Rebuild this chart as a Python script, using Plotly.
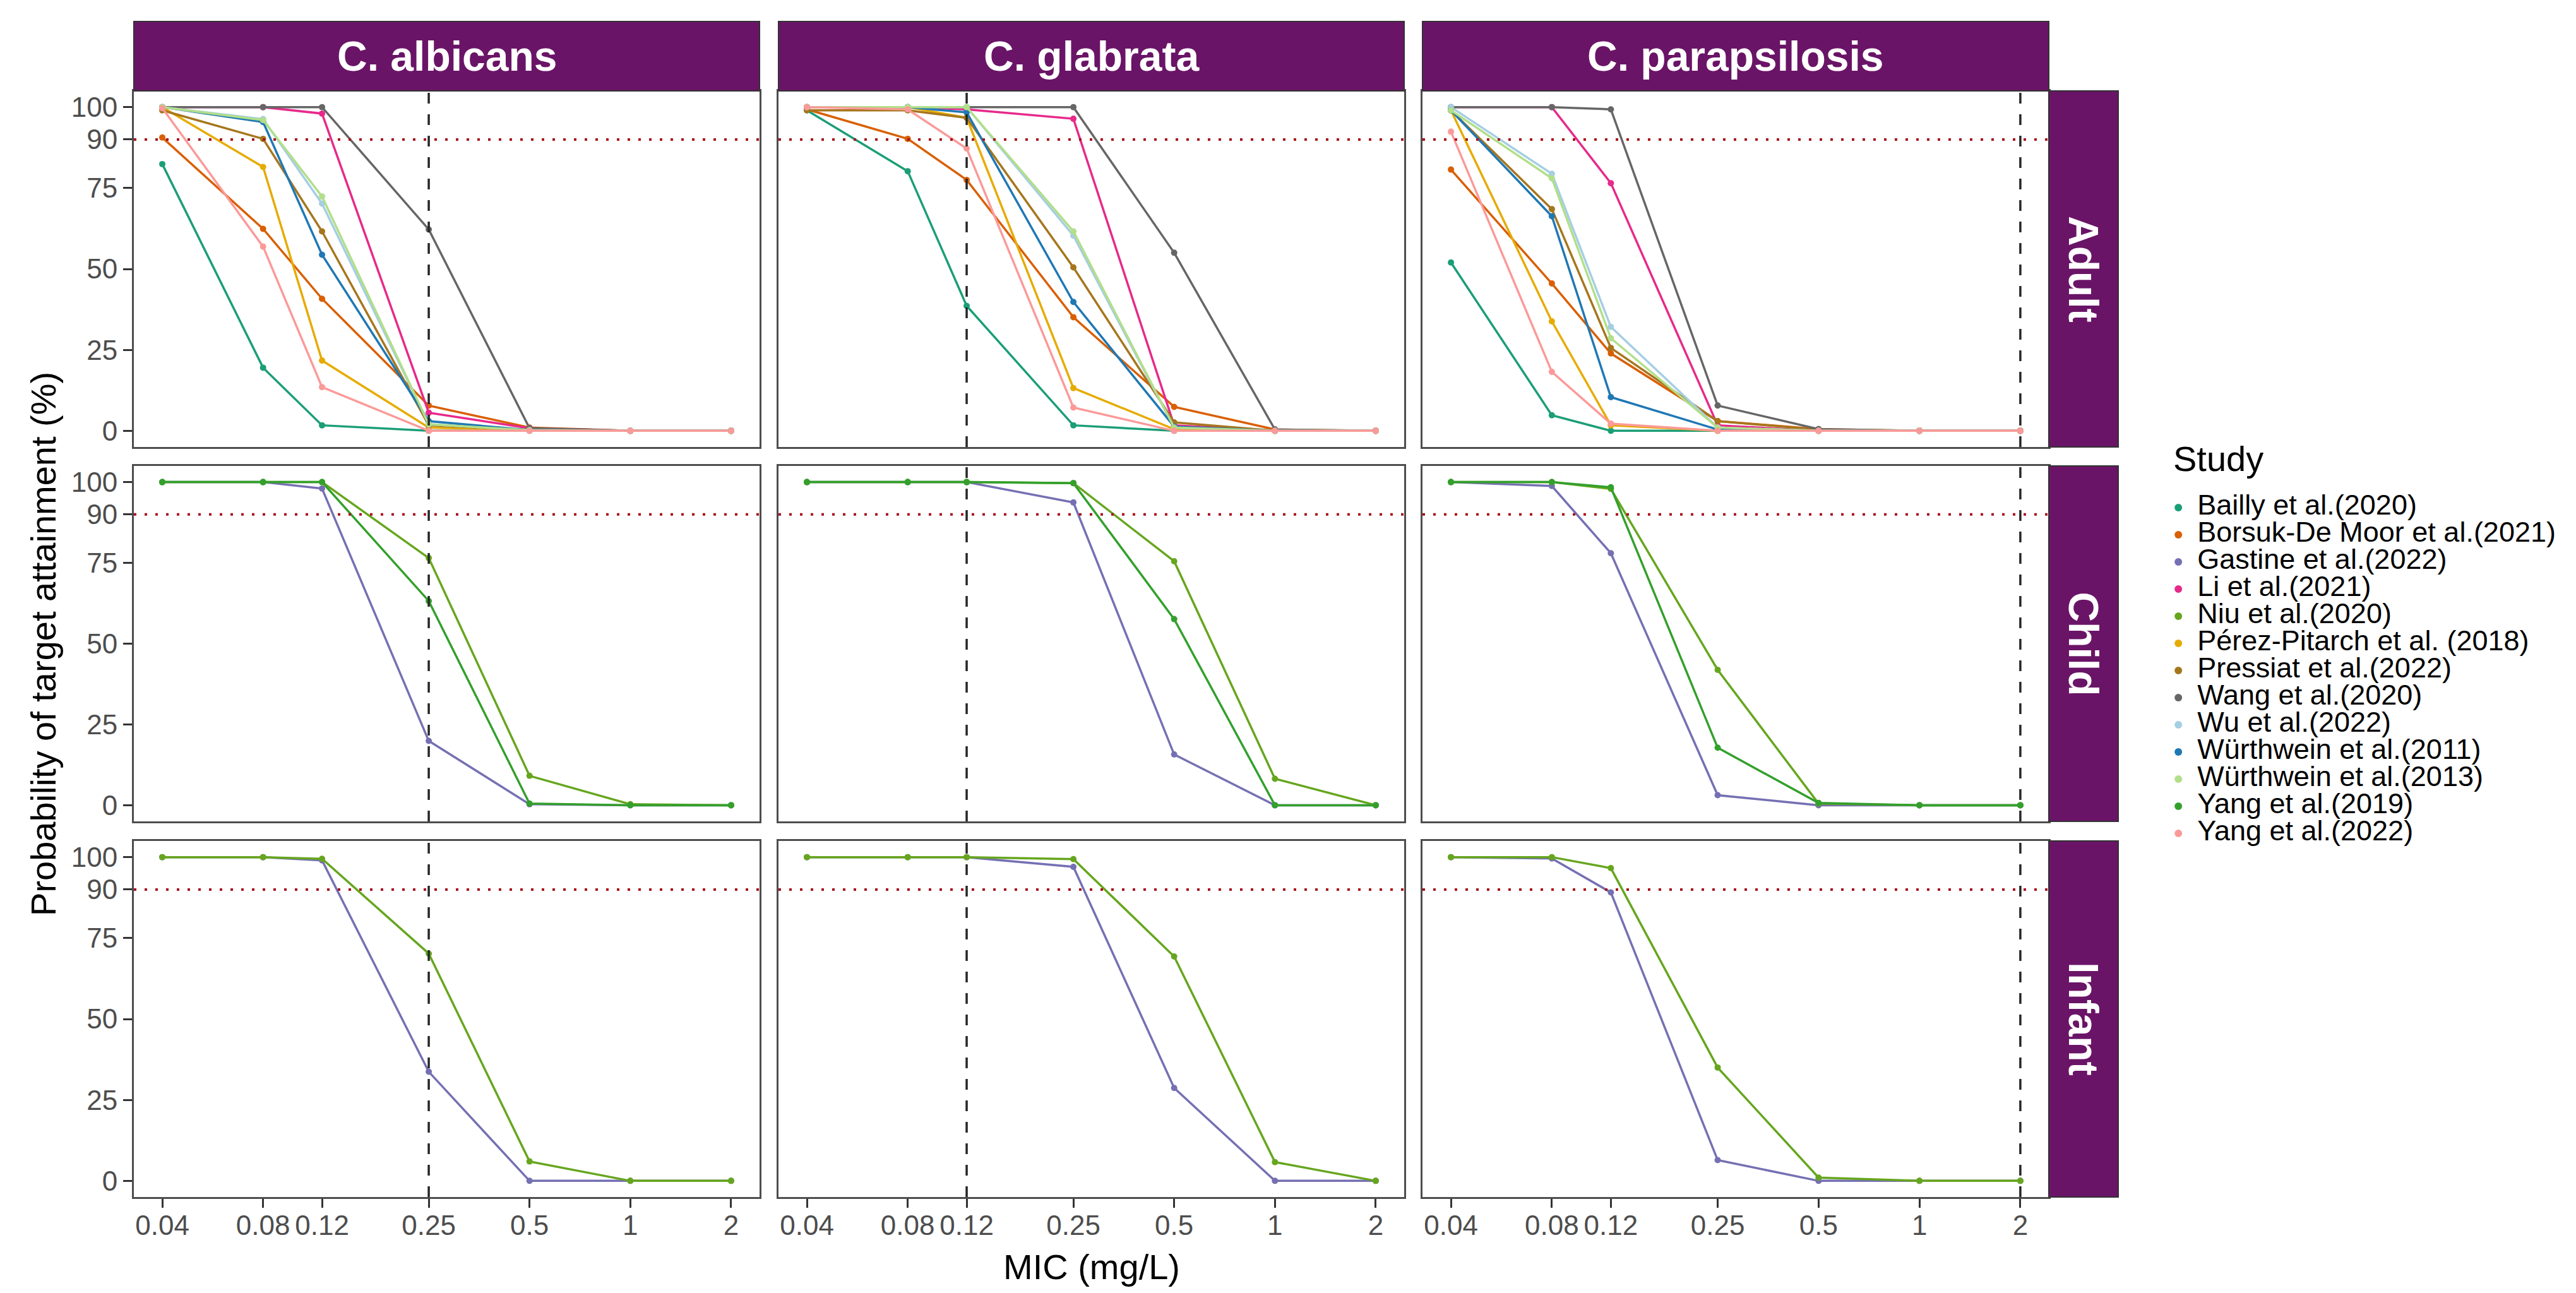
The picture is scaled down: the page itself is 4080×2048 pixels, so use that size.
import math
import plotly.graph_objects as go

# ---- data ---------------------------------------------------------------
MIC = [0.04, 0.08, 0.12, 0.25, 0.5, 1, 2]
MIC_LABELS = ["0.04", "0.08", "0.12", "0.25", "0.5", "1", "2"]
Y_TICKS = [0, 25, 50, 75, 90, 100]
SPECIES = ["C. albicans", "C. glabrata", "C. parapsilosis"]
POPULATIONS = ["Adult", "Child", "Infant"]
BREAKPOINTS = [0.25, 0.12, 2]   # dashed vertical line for each species
TARGET = 90                     # dotted horizontal line

STUDIES = [
    "Bailly et al.(2020)", "Borsuk-De Moor et al.(2021)", "Gastine et al.(2022)",
    "Li et al.(2021)", "Niu et al.(2020)", "Pérez-Pitarch et al. (2018)",
    "Pressiat et al.(2022)", "Wang et al.(2020)", "Wu et al.(2022)",
    "Würthwein et al.(2011)", "Würthwein et al.(2013)", "Yang et al.(2019)",
    "Yang et al.(2022)",
]
COLORS = [
    "#1B9E77", "#D95F02", "#7570B3", "#E7298A", "#66A61E", "#E6AB02",
    "#A6761D", "#666666", "#A6CEE3", "#1F78B4", "#B2DF8A", "#33A02C",
    "#FB9A99",
]

ADULT_ALBICANS = {
    "Bailly et al.(2020)":          [82.4, 19.5, 1.7, 0, 0, 0, 0],
    "Borsuk-De Moor et al.(2021)":  [90.6, 62.4, 40.8, 7.8, 1.0, 0, 0],
    "Li et al.(2021)":              [100, 100, 98, 5.6, 0.8, 0, 0],
    "Pérez-Pitarch et al. (2018)":  [100, 81.5, 21.7, 1.0, 0.3, 0, 0],
    "Pressiat et al.(2022)":        [99, 90.2, 61.6, 1.7, 0.3, 0, 0],
    "Wang et al.(2020)":            [100, 100, 100, 62.2, 0.8, 0, 0],
    "Wu et al.(2022)":              [100, 96.3, 70.2, 2.0, 0.2, 0, 0],
    "Würthwein et al.(2011)":       [100, 95.4, 54.4, 3.0, 0.2, 0, 0],
    "Würthwein et al.(2013)":       [100, 96, 72.4, 2.0, 0.2, 0, 0],
    "Yang et al.(2022)":            [99.7, 56.9, 13.5, 0, 0, 0, 0],
}
ADULT_GLABRATA = {
    "Bailly et al.(2020)":          [99, 80.2, 38.6, 1.7, 0, 0, 0],
    "Borsuk-De Moor et al.(2021)":  [99.3, 90.2, 77.5, 35.1, 7.4, 0.4, 0],
    "Li et al.(2021)":              [100, 100, 99.3, 96.4, 1.7, 0, 0],
    "Pérez-Pitarch et al. (2018)":  [100, 100, 96.7, 13.2, 0.5, 0, 0],
    "Pressiat et al.(2022)":        [99, 99, 96.7, 50.5, 2.6, 0, 0],
    "Wang et al.(2020)":            [100, 100, 100, 100, 55, 0.4, 0],
    "Wu et al.(2022)":              [100, 100, 100, 60.3, 1.0, 0, 0],
    "Würthwein et al.(2011)":       [100, 100, 98.4, 39.8, 1.3, 0, 0],
    "Würthwein et al.(2013)":       [100, 100, 100, 61.6, 1.0, 0, 0],
    "Yang et al.(2022)":            [100, 99.3, 87.2, 7.2, 0, 0, 0],
}
ADULT_PARAPSILOSIS = {
    "Bailly et al.(2020)":          [52, 4.8, 0, 0, 0, 0, 0],
    "Borsuk-De Moor et al.(2021)":  [80.7, 45.5, 23.9, 3.0, 0.5, 0, 0],
    "Li et al.(2021)":              [100, 100, 76.5, 1.7, 0, 0, 0],
    "Pérez-Pitarch et al. (2018)":  [99, 33.8, 1.7, 0, 0, 0, 0],
    "Pressiat et al.(2022)":        [99, 68.5, 25.6, 3.0, 0.3, 0, 0],
    "Wang et al.(2020)":            [100, 100, 99.3, 7.8, 0.5, 0, 0],
    "Wu et al.(2022)":              [100, 79.4, 32.1, 1.0, 0, 0, 0],
    "Würthwein et al.(2011)":       [99, 66.3, 10.4, 0.4, 0, 0, 0],
    "Würthwein et al.(2013)":       [99, 78, 28.6, 1.0, 0, 0, 0],
    "Yang et al.(2022)":            [92.4, 18.2, 2.2, 0, 0, 0, 0],
}
CHILD_ALBICANS = {
    "Gastine et al.(2022)":         [100, 100, 98, 19.9, 0.3, 0, 0],
    "Niu et al.(2020)":             [100, 100, 100, 76.5, 9.1, 0.3, 0],
    "Yang et al.(2019)":            [100, 100, 100, 63.2, 0.5, 0, 0],
}
CHILD_GLABRATA = {
    "Gastine et al.(2022)":         [100, 100, 100, 93.7, 15.7, 0, 0],
    "Niu et al.(2020)":             [100, 100, 100, 99.7, 75.5, 8.2, 0],
    "Yang et al.(2019)":            [100, 100, 100, 99.7, 57.6, 0, 0],
}
CHILD_PARAPSILOSIS = {
    "Gastine et al.(2022)":         [100, 98.8, 78, 3.1, 0, 0, 0],
    "Niu et al.(2020)":             [100, 100, 97.9, 41.9, 0.5, 0, 0],
    "Yang et al.(2019)":            [100, 100, 98.4, 17.8, 0.7, 0, 0],
}
INFANT_ALBICANS = {
    "Gastine et al.(2022)":         [100, 100, 99, 33.7, 0, 0, 0],
    "Niu et al.(2020)":             [100, 100, 99.5, 70.2, 6, 0, 0],
}
INFANT_GLABRATA = {
    "Gastine et al.(2022)":         [100, 100, 100, 97, 28.7, 0, 0],
    "Niu et al.(2020)":             [100, 100, 100, 99.4, 69.3, 5.8, 0],
}
INFANT_PARAPSILOSIS = {
    "Gastine et al.(2022)":         [100, 99.6, 89.1, 6.4, 0, 0, 0],
    "Niu et al.(2020)":             [100, 100, 96.6, 35, 1, 0, 0],
}

PANELS = [
    [ADULT_ALBICANS, ADULT_GLABRATA, ADULT_PARAPSILOSIS],
    [CHILD_ALBICANS, CHILD_GLABRATA, CHILD_PARAPSILOSIS],
    [INFANT_ALBICANS, INFANT_GLABRATA, INFANT_PARAPSILOSIS],
]

# ---- geometry (pixels of the 4080x2048 page) ----------------------------
W, H = 4080, 2048
COL_X = [(204, 1195), (1225, 2216), (2245, 3237)]
ROW_Y = [(136, 700), (730, 1293), (1324, 1888)]
STRIP_TOP = 26
ROW_STRIP_X = (3237, 3347)
LEGEND_X = (3430, 4070)
LEGEND_ROW = 43          # px between legend keys
LEGEND_FIRST = 796       # centre of first key

FONT = "Liberation Sans, Arial, sans-serif"
STRIP_FILL = "#6A1467"
BORDER = "#4D4D4D"


def fx(px):
    return px / W


def fy(px):
    return 1 - px / H


lo, hi = math.log10(MIC[0]), math.log10(MIC[-1])
pad = 0.05 * (hi - lo)
X_RANGE = [lo - pad, hi + pad]
Y_RANGE = [-5, 105]

color_of = dict(zip(STUDIES, COLORS))

fig = go.Figure()
shapes = []
annotations = []

for r, pop in enumerate(POPULATIONS):
    for c, sp in enumerate(SPECIES):
        k = r * 3 + c + 1
        xa = "x" if k == 1 else f"x{k}"
        ya = "y" if k == 1 else f"y{k}"
        panel = PANELS[r][c]

        for study in STUDIES:
            if study not in panel:
                continue
            fig.add_trace(go.Scatter(
                x=MIC, y=panel[study], mode="lines+markers",
                line=dict(color=color_of[study], width=3.5),
                marker=dict(color=color_of[study], size=10),
                name=study, showlegend=False, xaxis=xa, yaxis=ya,
                cliponaxis=False,
            ))

        # breakpoint line (dashed) spanning the whole panel
        bp = BREAKPOINTS[c]
        fig.add_trace(go.Scatter(
            x=[bp, bp], y=Y_RANGE, mode="lines",
            line=dict(color="#262626", width=3.5, dash="17px,17px"),
            showlegend=False, hoverinfo="skip", xaxis=xa, yaxis=ya,
        ))
        # target attainment line
        shapes.append(dict(
            type="line", xref=f"{xa} domain", yref=ya,
            x0=0, x1=1, y0=TARGET, y1=TARGET,
            line=dict(color="#A8141C", width=4, dash="4px,13px"),
        ))

        x0, x1 = COL_X[c]
        y0, y1 = ROW_Y[r]
        bottom = r == len(POPULATIONS) - 1
        left = c == 0
        fig.update_layout({
            f"xaxis{'' if k == 1 else k}": dict(
                domain=[fx(x0), fx(x1)], anchor=ya, type="log",
                range=X_RANGE, tickvals=MIC, ticktext=MIC_LABELS,
                showticklabels=bottom, ticks="outside" if bottom else "",
                ticklen=14, tickwidth=3, tickcolor="#333333", tickangle=0,
                ticklabelstandoff=-10,
                tickfont=dict(size=44, color="#4D4D4D", family=FONT),
                showgrid=False, zeroline=False,
                showline=True, mirror=True, linecolor=BORDER, linewidth=3,
            ),
            f"yaxis{'' if k == 1 else k}": dict(
                domain=[fy(y1), fy(y0)], anchor=xa, range=Y_RANGE,
                tickvals=Y_TICKS, showticklabels=left,
                ticks="outside" if left else "",
                ticklen=14, tickwidth=3, tickcolor="#333333",
                tickfont=dict(size=44, color="#4D4D4D", family=FONT),
                showgrid=False, zeroline=False,
                showline=True, mirror=True, linecolor=BORDER, linewidth=3,
            ),
        })

# ---- legend: a small hidden axis, one row per study ---------------------
rows = list(range(len(STUDIES)))
leg_top = LEGEND_FIRST - LEGEND_ROW / 2
leg_bot = LEGEND_FIRST + LEGEND_ROW * (len(STUDIES) - 0.5)
fig.add_trace(go.Scatter(
    x=[0.019] * len(STUDIES), y=rows, mode="markers",
    marker=dict(color=COLORS, size=12), showlegend=False,
    hoverinfo="skip", xaxis="x10", yaxis="y10", cliponaxis=False,
))
fig.add_trace(go.Scatter(
    x=[0.066] * len(STUDIES), y=rows, mode="text", text=STUDIES,
    textposition="middle right",
    textfont=dict(size=45, color="black", family=FONT),
    showlegend=False, hoverinfo="skip", xaxis="x10", yaxis="y10",
    cliponaxis=False,
))
fig.update_layout(
    xaxis10=dict(domain=[fx(LEGEND_X[0]), fx(LEGEND_X[1])], range=[0, 1],
                 anchor="y10", visible=False),
    yaxis10=dict(domain=[fy(leg_bot), fy(leg_top)],
                 range=[len(STUDIES) - 0.5, -0.5], anchor="x10", visible=False),
)
annotations.append(dict(
    text="Study", xref="paper", yref="paper", showarrow=False,
    x=fx(LEGEND_X[0] + 2), y=fy(718), xanchor="left", yanchor="middle",
    font=dict(size=56, color="black", family=FONT),
))

# ---- facet strips --------------------------------------------------------
for c, sp in enumerate(SPECIES):
    x0, x1 = COL_X[c]
    shapes.append(dict(
        type="rect", xref="paper", yref="paper",
        x0=fx(x0), x1=fx(x1), y0=fy(ROW_Y[0][0]), y1=fy(STRIP_TOP),
        fillcolor=STRIP_FILL, line=dict(color="#333333", width=2),
    ))
    annotations.append(dict(
        text=sp, xref="paper", yref="paper", showarrow=False,
        x=fx((x0 + x1) / 2), y=fy((STRIP_TOP + ROW_Y[0][0]) / 2),
        xanchor="center", yanchor="middle",
        font=dict(size=66, color="white", family=FONT, weight="bold"),
    ))
for r, pop in enumerate(POPULATIONS):
    y0, y1 = ROW_Y[r]
    shapes.append(dict(
        type="rect", xref="paper", yref="paper",
        x0=fx(ROW_STRIP_X[0]), x1=fx(ROW_STRIP_X[1]), y0=fy(y1), y1=fy(y0),
        fillcolor=STRIP_FILL, line=dict(color="#333333", width=2),
    ))
    annotations.append(dict(
        text=pop, xref="paper", yref="paper", showarrow=False, textangle=90,
        x=fx(sum(ROW_STRIP_X) / 2), y=fy((y0 + y1) / 2),
        xanchor="center", yanchor="middle",
        font=dict(size=66, color="white", family=FONT, weight="bold"),
    ))

# ---- overall axis titles -------------------------------------------------
annotations.append(dict(
    text="MIC (mg/L)", xref="paper", yref="paper", showarrow=False,
    x=fx((COL_X[0][0] + COL_X[2][1]) / 2), y=fy(1998),
    xanchor="center", yanchor="middle",
    font=dict(size=56, color="black", family=FONT),
))
annotations.append(dict(
    text="Probability of target attainment (%)", xref="paper", yref="paper",
    showarrow=False, textangle=-90,
    x=fx(60), y=fy((ROW_Y[0][0] + ROW_Y[2][1]) / 2),
    xanchor="center", yanchor="middle",
    font=dict(size=56, color="black", family=FONT),
))

fig.update_layout(
    width=W, height=H, autosize=False,
    margin=dict(l=0, r=0, t=0, b=0),
    paper_bgcolor="white", plot_bgcolor="white",
    font=dict(family=FONT),
    shapes=shapes, annotations=annotations,
    showlegend=False,
)

fig.write_html("out.html")
